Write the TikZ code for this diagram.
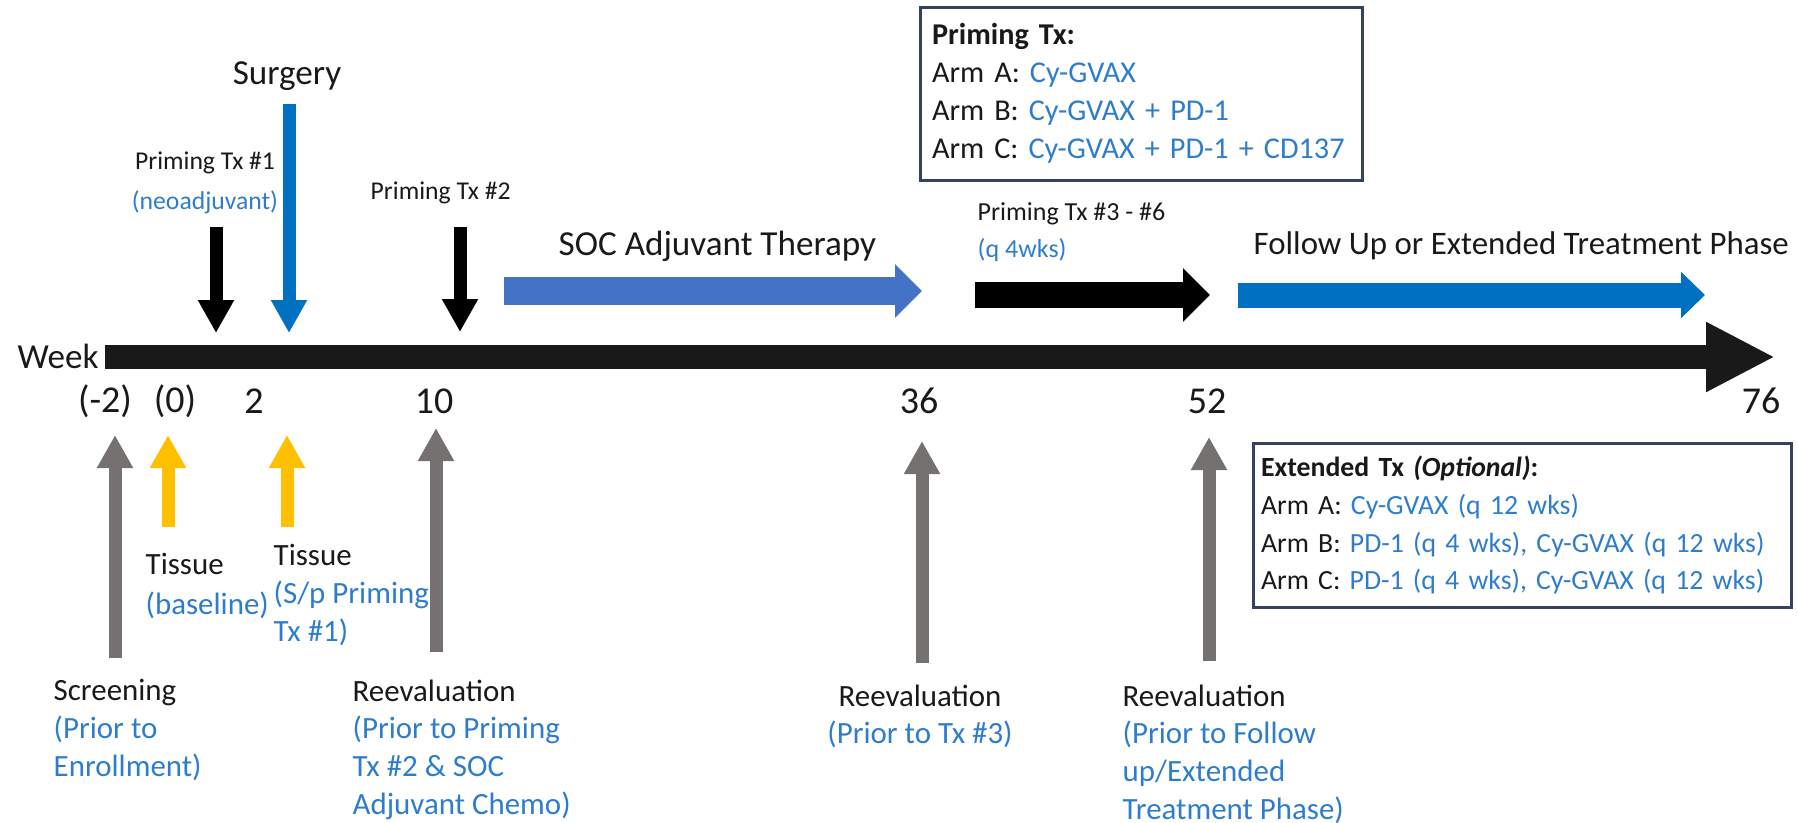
\documentclass[tikz,border=0pt]{standalone}
\usepackage{fontspec}
\setmainfont{Carlito}
\usetikzlibrary{arrows.meta}
\definecolor{txtblack}{RGB}{25,25,25}
\definecolor{txtblue}{RGB}{46,125,205}
\definecolor{surgblue}{RGB}{0,112,192}
\definecolor{socblue}{RGB}{68,114,196}
\definecolor{markgray}{RGB}{118,113,113}
\definecolor{tissueyellow}{RGB}{255,192,0}
\definecolor{boxline}{RGB}{52,66,96}
\begin{document}
\begin{tikzpicture}[x=0.1mm,y=-0.1mm,
  every node/.style={inner sep=0pt,text=txtblack},
  lbl/.style={font=\fontsize{8.8}{10.7}\selectfont,align=left,anchor=north west},
  minilbl/.style={font=\fontsize{7.3}{11.4}\selectfont,align=center},
  biglbl/.style={font=\fontsize{10}{12}\selectfont},
  wknum/.style={font=\fontsize{10.8}{13}\selectfont},
  evarrow/.style={line width=1.3mm,-{Triangle[length=3.3mm,width=3.4mm]}},
  fatarrow/.style={line width=2.8mm,-{Triangle[length=2.7mm,width=5.2mm]}},
  armbox/.style={draw=boxline,line width=0.3mm,align=left}]
\useasboundingbox (0,0) rectangle (1798,822);
% treatment boxes
\node[armbox,inner xsep=1.2mm,minimum height=17.3mm,text width=41.8mm,font=\fontsize{8.6}{10.8}\selectfont] (primebox) at (1141,93.5)
  {\textbf{Priming Tx:}\\Arm A: \textcolor{txtblue}{Cy-GVAX}\\Arm B: \textcolor{txtblue}{Cy-GVAX + PD-1}\\Arm C: \textcolor{txtblue}{Cy-GVAX + PD-1 + CD137}};
\node[armbox,inner xsep=0.8mm,minimum height=16.4mm,text width=52.2mm,font=\fontsize{7.9}{10.8}\selectfont] (extbox) at (1522,525)
  {\textbf{Extended Tx \textit{(Optional)}:}\\Arm A: \textcolor{txtblue}{Cy-GVAX (q 12 wks)}\\Arm B: \textcolor{txtblue}{PD-1 (q 4 wks), Cy-GVAX (q 12 wks)}\\Arm C: \textcolor{txtblue}{PD-1 (q 4 wks), Cy-GVAX (q 12 wks)}};
% labels above the line
\node[biglbl] (surgery) at (287,76) {Surgery};
\node[minilbl] (prime1) at (205,183) {Priming Tx \#1\\\textcolor{txtblue}{(neoadjuvant)}};
\node[minilbl,anchor=west] (prime2) at (370,193) {Priming Tx \#2};
\node[biglbl,anchor=west] (soc) at (558,246) {SOC Adjuvant Therapy};
\node[minilbl,align=left,anchor=north west,font=\fontsize{7.4}{10.6}\selectfont] (prime36) at (977,202) {Priming Tx \#3 - \#6\\\textcolor{txtblue}{(q 4wks)}};
\node[biglbl,anchor=west,font=\fontsize{9.35}{11}\selectfont] (follow) at (1253,246) {Follow Up or Extended Treatment Phase};
% timeline
\node[biglbl] (week) at (58,356) {Week};
\coordinate (tlstart) at (105,357);
\coordinate (tlend) at (1775,357);
\draw[line width=2.4mm,txtblack,-{Triangle[length=6.9mm,width=6.5mm]}] (tlstart) -- (tlend);
\node[wknum] (wkm2) at (105,401) {(-2)};
\node[wknum] (wk0) at (175,401) {(0)};
\node[wknum] (wk2) at (254,401) {2};
\node[wknum] (wk10) at (434,401) {10};
\node[wknum] (wk36) at (919,401) {36};
\node[wknum] (wk52) at (1207,401) {52};
\node[wknum] (wk76) at (1761,401) {76};
% phase arrows
\coordinate (soca) at (504,291); \coordinate (socb) at (922,291);
\coordinate (p36a) at (975,295); \coordinate (p36b) at (1210,295);
\coordinate (fola) at (1238,295); \coordinate (folb) at (1705,295);
\draw[fatarrow,socblue] (soca) -- (socb);
\draw[fatarrow,black,line width=2.6mm] (p36a) -- (p36b);
\draw[fatarrow,surgblue,line width=2.5mm,-{Triangle[length=2.4mm,width=4.5mm]}] (fola) -- (folb);
% dosing arrows
\coordinate (p1a) at (216,227); \coordinate (p1b) at (216,333);
\coordinate (surga) at (289,104); \coordinate (surgb) at (289,333);
\coordinate (p2a) at (460,227); \coordinate (p2b) at (460,332);
\draw[evarrow,black] (p1a) -- (p1b);
\draw[evarrow,surgblue] (surga) -- (surgb);
\draw[evarrow,black] (p2a) -- (p2b);
% assessment arrows
\coordinate (scra) at (115,658); \coordinate (scrb) at (115,435);
\coordinate (ts0a) at (168,527); \coordinate (ts0b) at (168,435);
\coordinate (ts2a) at (287,527); \coordinate (ts2b) at (287,435);
\coordinate (re10a) at (436,652); \coordinate (re10b) at (436,428);
\coordinate (re36a) at (922,663); \coordinate (re36b) at (922,441);
\coordinate (re52a) at (1209,661); \coordinate (re52b) at (1209,437);
\draw[evarrow,markgray] (scra) -- (scrb);
\draw[evarrow,tissueyellow] (ts0a) -- (ts0b);
\draw[evarrow,tissueyellow] (ts2a) -- (ts2b);
\draw[evarrow,markgray] (re10a) -- (re10b);
\draw[evarrow,markgray] (re36a) -- (re36b);
\draw[evarrow,markgray] (re52a) -- (re52b);
% labels below the line
\node[lbl,font=\fontsize{8.8}{11.3}\selectfont] (tissue0) at (145,553) {Tissue\\\textcolor{txtblue}{(baseline)}};
\node[lbl] (tissue2) at (273,544) {Tissue\\\textcolor{txtblue}{(S/p Priming}\\\textcolor{txtblue}{Tx \#1)}};
\node[lbl] (screen) at (53,679) {Screening\\\textcolor{txtblue}{(Prior to}\\\textcolor{txtblue}{Enrollment)}};
\node[lbl] (reeval10) at (352,679) {Reevaluation\\\textcolor{txtblue}{(Prior to Priming}\\\textcolor{txtblue}{Tx \#2 \& SOC}\\\textcolor{txtblue}{Adjuvant Chemo)}};
\node[lbl,align=center,anchor=north] (reeval36) at (920,684) {Reevaluation\\\textcolor{txtblue}{(Prior to Tx \#3)}};
\node[lbl] (reeval52) at (1122,684) {Reevaluation\\\textcolor{txtblue}{(Prior to Follow}\\\textcolor{txtblue}{up/Extended}\\\textcolor{txtblue}{Treatment Phase)}};
\end{tikzpicture}
\end{document}
